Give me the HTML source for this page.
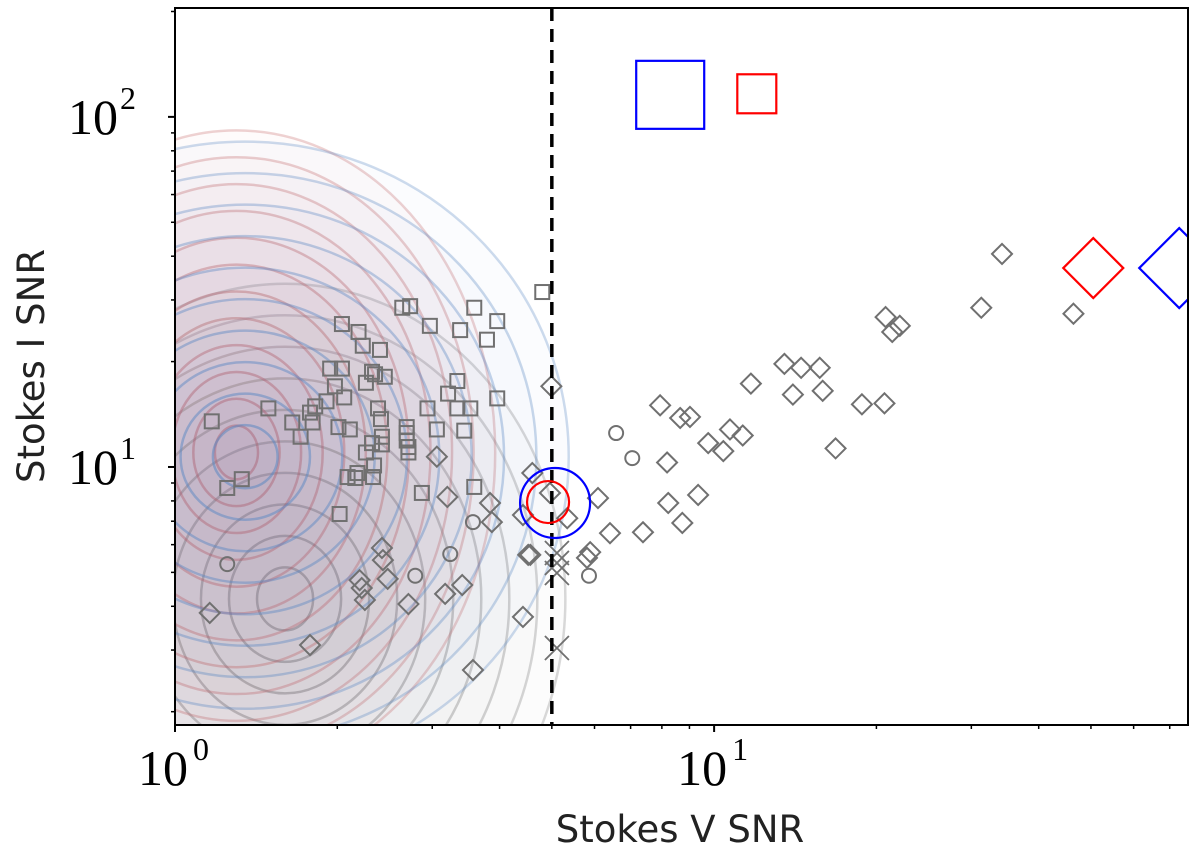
<!DOCTYPE html>
<html><head><meta charset="utf-8">
<style>
html,body{margin:0;padding:0;background:#fff;width:1200px;height:859px;overflow:hidden;}
svg{display:block;}
.tick{font-family:"Liberation Serif",serif;fill:#000;}
.title{font-family:"DejaVu Sans","Liberation Sans",sans-serif;fill:#222;font-size:37px;}
</style></head>
<body>
<svg id="chart" width="1200" height="859" viewBox="0 0 1200 859" xmlns="http://www.w3.org/2000/svg">
<defs><clipPath id="plotclip"><rect x="175" y="8" width="1013" height="717"/></clipPath></defs>
<g id="contours" clip-path="url(#plotclip)"></g>
<g id="marks" clip-path="url(#plotclip)"></g>
<g id="axes"></g>
<text class="title" x="680" y="842" text-anchor="middle">Stokes V SNR</text>
<text class="title" x="0" y="0" text-anchor="middle" transform="translate(44,366) rotate(-90)">Stokes I SNR</text>
</svg>
<script>
// axis ranges (log10)
const xMinLog = 0, xMaxLog = 1.879;
const yMinLog = 0.263, yMaxLog = 2.311;
const X0 = 175, X1 = 1188, Y0 = 725, Y1 = 8;
function xs(v){ return X0 + (Math.log10(v) - xMinLog) / (xMaxLog - xMinLog) * (X1 - X0); }
function ys(v){ return Y0 - (Math.log10(v) - yMinLog) / (yMaxLog - yMinLog) * (Y0 - Y1); }
const decX = (X1 - X0) / (xMaxLog - xMinLog), decY = (Y0 - Y1) / (yMaxLog - yMinLog);

// data
const squareX = [4.80,2.64,2.73,3.59,3.96,2.04,2.19,2.97,3.38,3.79,2.23,2.40,1.94,2.04,2.32,2.35,2.45,2.26,3.34,1.98,2.06,3.21,3.96,1.91,1.82,1.49,2.94,3.34,3.53,2.38,1.78,1.80,2.41,1.17,1.65,2.01,2.11,3.06,3.44,2.69,2.69,2.69,2.71,2.71,1.71,2.42,2.42,2.32,2.26,2.34,2.33,2.18,2.09,2.16,1.33,1.25,3.59,2.87,2.02];
const squareY = [31.6,28.5,28.8,28.5,26.1,25.6,24.3,25.3,24.6,23.1,22.2,21.6,19.1,19.1,18.7,18.4,18.1,17.4,17.6,17.0,15.8,16.2,15.7,15.4,14.9,14.7,14.7,14.7,14.7,14.7,14.3,13.4,13.7,13.5,13.4,13.0,12.8,12.8,12.7,13.0,12.5,11.9,11.4,11.0,12.2,12.2,11.6,11.7,11.0,10.1,9.36,9.61,9.36,9.30,9.23,8.71,8.77,8.43,7.34];
const circleX = [1.25,2.79,3.24,3.57,6.58,7.05,5.86];
const circleY = [5.28,4.89,5.64,6.96,12.5,10.6,4.89];
const diamondX = [3.06,3.20,3.84,3.87,4.60,4.42,2.42,2.43,2.48,2.20,2.22,2.25,2.71,3.17,3.41,4.52,1.16,1.78,4.42,3.57,4.99,4.96,6.09,5.34,4.56,5.89,5.81,6.41,7.38,8.22,8.73,9.34,8.18,7.94,8.65,9.02,9.75,10.4,10.7,11.3,11.7,13.5,14.5,15.7,14.0,15.9,16.8,18.8,20.7,20.8,22.1,21.4,34.2,31.3,46.4];
const diamondY = [10.7,8.21,7.89,6.96,9.61,7.29,5.87,5.42,4.79,4.75,4.51,4.17,4.06,4.34,4.60,5.61,3.83,3.10,3.73,2.63,17.0,8.43,8.15,7.14,5.61,5.71,5.50,6.47,6.51,7.89,6.92,8.32,10.3,15.0,13.8,13.9,11.7,11.1,12.8,12.3,17.3,19.7,19.2,19.2,16.1,16.5,11.3,15.1,15.2,26.8,25.3,24.3,40.6,28.5,27.4];
const crossX = [5.11,5.11,5.11,5.11];
const crossY = [5.68,5.32,4.98,3.04];
const thresholdV = 5.0;
// highlighted sources
const hlCircleX = [5.07,4.92], hlCircleY = [7.89,7.94], hlCircleColor = ['#0000ff','#ff0000'];
const hlDiamondX = [50.5,72.9], hlDiamondY = [37.0,37.0], hlDiamondColor = ['#ff0000','#0000ff'];
const hlSquareX = [8.29,12.0], hlSquareY = [115.6,116.4], hlSquareColor = ['#0000ff','#ff0000'];
// density contours (centre values, radii in decades)
const kdeNames = ['gray','red','blue'];
const kdeCX = [1.6,1.3,1.35];
const kdeCY = [4.2,11.0,10.7];
const kdeRX = [0.52,0.48,0.6];
const kdeRY = [0.9,0.92,0.9];
const kdeColor = ['130,130,130','200,105,105','90,135,195'];
const kdeLevels = [10,12,10];

const NS = 'http://www.w3.org/2000/svg';
function mk(tag, attrs, parent){ const e = document.createElementNS(NS, tag); for (const k in attrs) e.setAttribute(k, attrs[k]); parent.appendChild(e); return e; }

const cont = document.getElementById('contours');
for (let k = 0; k < kdeNames.length; k++){
  const n = kdeLevels[k];
  for (let i = n; i >= 1; i--){
    const f = i / n;
    const e = mk('ellipse', {cx: xs(kdeCX[k]), cy: ys(kdeCY[k]), rx: kdeRX[k]*decX*f, ry: kdeRY[k]*decY*f,
      fill: 'rgba(' + kdeColor[k] + ',0.022)', stroke: 'rgba(' + kdeColor[k] + ',' + (0.3 + 0.25*(1-f)) + ')', 'stroke-width': 2.5}, cont);
    
    
  }
}

const marks = document.getElementById('marks');
const G = '#707070';
for (let i = 0; i < squareX.length; i++){
  const e = mk('rect', {x: xs(squareX[i]) - 7, y: ys(squareY[i]) - 7, width: 14, height: 14, fill: 'none', stroke: G, 'stroke-width': 2}, marks);
  
  
}
for (let i = 0; i < circleX.length; i++){
  const e = mk('circle', {cx: xs(circleX[i]), cy: ys(circleY[i]), r: 7, fill: 'none', stroke: G, 'stroke-width': 2}, marks);
  
  
}
for (let i = 0; i < diamondX.length; i++){
  const cx = xs(diamondX[i]), cy = ys(diamondY[i]), s = 10;
  const e = mk('polygon', {points: `${cx},${cy-s} ${cx+s},${cy} ${cx},${cy+s} ${cx-s},${cy}`, fill: 'none', stroke: G, 'stroke-width': 2}, marks);
  
  
}
for (let i = 0; i < crossX.length; i++){
  const cx = xs(crossX[i]), cy = ys(crossY[i]), s = 12;
  const e = mk('path', {d: `M${cx-s},${cy-s}L${cx+s},${cy+s}M${cx-s},${cy+s}L${cx+s},${cy-s}`, stroke: G, 'stroke-width': 1.8, fill: 'none'}, marks);
  
  
}
const th = mk('line', {x1: xs(thresholdV), x2: xs(thresholdV), y1: Y1, y2: Y0, stroke: '#000', 'stroke-width': 3.5, 'stroke-dasharray': '13,8'}, marks);


const hlR = [35,21];
for (let i = 0; i < hlCircleX.length; i++){
  const e = mk('circle', {cx: xs(hlCircleX[i]), cy: ys(hlCircleY[i]), r: hlR[i], fill: 'none', stroke: hlCircleColor[i], 'stroke-width': 2.2}, marks);
  
  
}
const hlD = [30,40];
for (let i = 0; i < hlDiamondX.length; i++){
  const cx = xs(hlDiamondX[i]), cy = ys(hlDiamondY[i]), s = hlD[i];
  const e = mk('polygon', {points: `${cx},${cy-s} ${cx+s},${cy} ${cx},${cy+s} ${cx-s},${cy}`, fill: 'none', stroke: hlDiamondColor[i], 'stroke-width': 2.2}, marks);
  
  
}
const hlS = [34,19.5];
for (let i = 0; i < hlSquareX.length; i++){
  const e = mk('rect', {x: xs(hlSquareX[i]) - hlS[i], y: ys(hlSquareY[i]) - hlS[i], width: 2*hlS[i], height: 2*hlS[i], fill: 'none', stroke: hlSquareColor[i], 'stroke-width': 2.2}, marks);
  
  
}

// axes
const ax = document.getElementById('axes');
const frame = mk('rect', {x: X0, y: Y1, width: X1 - X0, height: Y0 - Y1, fill: 'none', stroke: '#000', 'stroke-width': 2}, ax);


const xMajor = [1, 10], xMajorExp = ['0','1'];
const xMinor = [2,3,4,5,6,7,8,9,20,30,40,50,60,70];
const yMajor = [10, 100], yMajorExp = ['1','2'];
const yMinor = [2,3,4,5,6,7,8,9,20,30,40,50,60,70,80,90,200];
for (const v of xMinor){ if (xs(v) <= X1) mk('line', {x1: xs(v), x2: xs(v), y1: Y0, y2: Y0 + 4, stroke: '#000', 'stroke-width': 1.5}, ax); }
for (const v of yMinor){ const y = ys(v); if (y >= Y1 && y <= Y0) mk('line', {x1: X0 - 4, x2: X0, y1: y, y2: y, stroke: '#000', 'stroke-width': 1.5}, ax); }
for (let i = 0; i < xMajor.length; i++){
  const x = xs(xMajor[i]);
  mk('line', {x1: x, x2: x, y1: Y0, y2: Y0 + 7, stroke: '#000', 'stroke-width': 2}, ax);
  const t = mk('text', {x: x - 12, y: 785, 'text-anchor': 'middle', 'font-size': 50, class: 'tick'}, ax);
  t.textContent = '10';
  
  
  const s = mk('text', {x: x + 26, y: 760, 'text-anchor': 'middle', 'font-size': 32, class: 'tick'}, ax);
  s.textContent = xMajorExp[i];
}
for (let i = 0; i < yMajor.length; i++){
  const y = ys(yMajor[i]);
  mk('line', {x1: X0 - 7, x2: X0, y1: y, y2: y, stroke: '#000', 'stroke-width': 2}, ax);
  const t = mk('text', {x: 118, y: y + 17, 'text-anchor': 'end', 'font-size': 50, class: 'tick'}, ax);
  t.textContent = '10';
  
  
  const s = mk('text', {x: 120, y: y - 8, 'text-anchor': 'start', 'font-size': 32, class: 'tick'}, ax);
  s.textContent = yMajorExp[i];
}
</script>
</body></html>
